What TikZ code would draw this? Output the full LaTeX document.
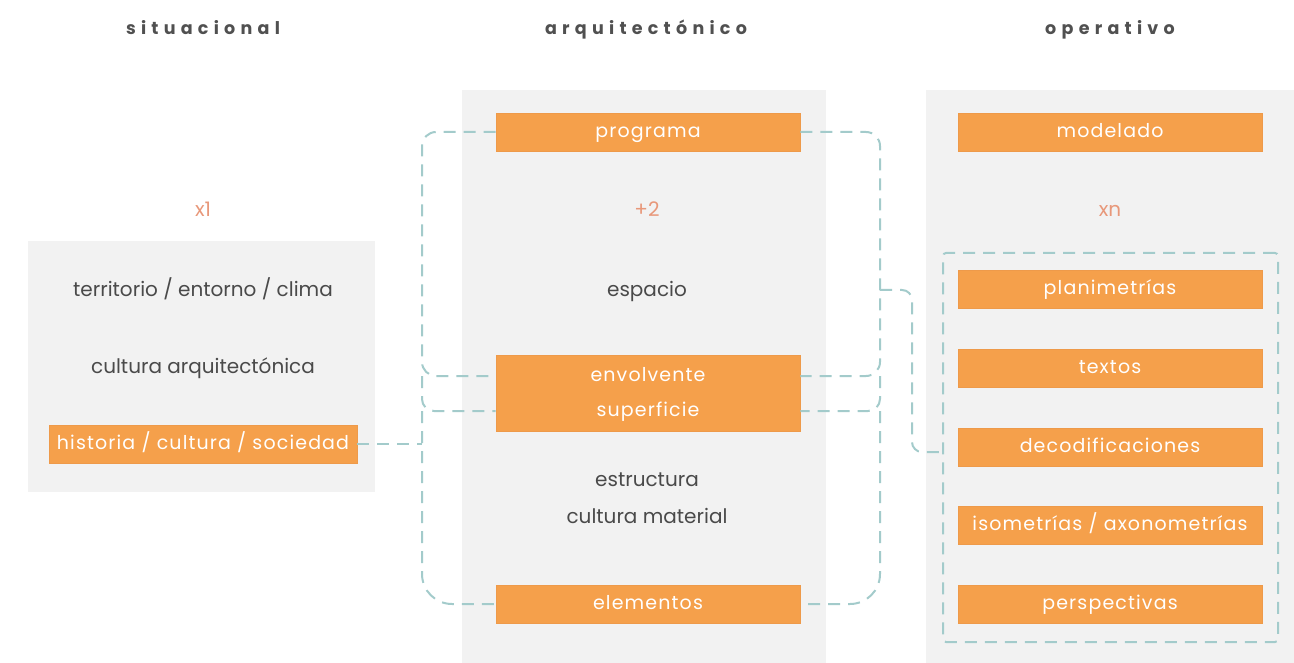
\documentclass[tikz,border=0pt]{standalone}
\usepackage{fontspec}
\setmainfont{Poppins}
\usetikzlibrary{calc}
\definecolor{panel}{HTML}{F2F2F2}
\definecolor{orng}{HTML}{F5A04B}
\definecolor{orngedge}{HTML}{EE9A4A}
\definecolor{salmon}{HTML}{E8987A}
\definecolor{txt}{HTML}{4A4A4A}
\definecolor{head}{HTML}{505050}
\definecolor{teal}{HTML}{A3CBCB}
\tikzset{
  panelbox/.style={fill=panel, draw=none},
  otext/.style={text=white, font=\fontsize{19}{21}\selectfont\addfontfeatures{LetterSpace=6}, text height=10.5pt, text depth=0pt},
  obox/.style={fill=orng, draw=orngedge, line width=0.6pt, minimum width=304pt, minimum height=38pt, inner sep=0pt, otext},
  plain/.style={text=txt, font=\fontsize{20}{22}\selectfont, inner sep=0pt, text height=11pt, text depth=0pt},
  num/.style={text=salmon, font=\fontsize{20}{22}\selectfont, inner sep=0pt, text height=14pt, text depth=0pt},
  header/.style={text=head, font=\fontsize{17.5}{19}\selectfont\bfseries\addfontfeatures{LetterSpace=30}, inner sep=0pt, text height=9.8pt, text depth=0pt},
  conn/.style={draw=teal, line width=2pt, dash pattern=on 12pt off 8pt},
}
\begin{document}
\begin{tikzpicture}[x=1pt,y=-1pt]
\useasboundingbox (0,0) rectangle (1294,663);
% panels
\fill[panelbox] (28,241) rectangle (375,492);
\fill[panelbox] (462,90) rectangle (826,663);
\fill[panelbox] (926,90) rectangle (1294,663);
% headers
\node[header] (h1) at (203,30) {situacional};
\node[header] (h2) at (646,30) {arquitectónico};
\node[header] (h3) at (1110,30) {operativo};
% counts
\node[num] (n1) at (203,210) {x1};
\node[num] (n2) at (647,210) {+2};
\node[num] (n3) at (1110,210) {xn};
% situacional
\node[plain] (ter) at (203,291) {territorio / entorno / clima};
\node[plain] (cul) at (203,368) {cultura arquitectónica};
\node[obox, minimum width=308pt] (hist) at (203,444) {historia / cultura / sociedad};
% arquitectonico
\node[obox] (prog) at (648,132) {programa};
\node[plain] (esp) at (647,291) {espacio};
\node[obox, minimum height=76pt] (env) at (648,393) {};
\node[otext, inner sep=0pt] (envA) at (648,376) {envolvente};
\node[otext, inner sep=0pt] (envB) at (648,411) {superficie};
\node[plain] (est) at (647,481) {estructura};
\node[plain] (cmat) at (647,518) {cultura material};
\node[obox] (elem) at (648,604) {elementos};
% operativo
\node[obox] (mod) at (1110,132) {modelado};
\node[conn, rounded corners=3pt, minimum width=335pt, minimum height=389pt, inner sep=0pt] (grp) at (1110.5,447.5) {};
\node[obox] (pla) at (1110,289) {planimetrías};
\node[obox] (tex) at (1110,368) {textos};
\node[obox] (dec) at (1110,447) {decodificaciones};
\node[obox] (iso) at (1110,525) {isometrías / axonometrías};
\node[obox] (per) at (1110,604) {perspectivas};
% connector coordinates
\coordinate (L1) at (422,132);
\coordinate (L2) at (422,376);
\coordinate (L3) at (422,411);
\coordinate (L4) at (422,604);
\coordinate (LH) at (422,444);
\coordinate (R1) at (880,132);
\coordinate (R2) at (880,376);
\coordinate (R3) at (880,411);
\coordinate (R4) at (880,604);
\coordinate (RB) at (880,290);
\coordinate (RC) at (912,290);
\coordinate (RD) at (912,452);
% left bracket
\draw[conn, rounded corners=14pt] (prog.west) -- (L1) -- (L2) -- (env.west |- envA);
\draw[conn, rounded corners=12pt] (L2) -- (L3) -- (env.west |- envB);
\draw[conn, rounded corners=30pt] (L3) -- (L4) -- (elem.west);
\draw[conn] (hist.east) -- (LH);
% right bracket
\draw[conn, rounded corners=14pt] (prog.east) -- (R1) -- (R2) -- (env.east |- envA);
\draw[conn, rounded corners=12pt] (R2) -- (R3) -- (env.east |- envB);
\draw[conn, rounded corners=30pt] (R3) -- (R4) -- (elem.east);
\draw[conn, rounded corners=10pt] (RB) -- (RC) -- (RD) -- (grp.west |- RD);
\end{tikzpicture}
\end{document}
